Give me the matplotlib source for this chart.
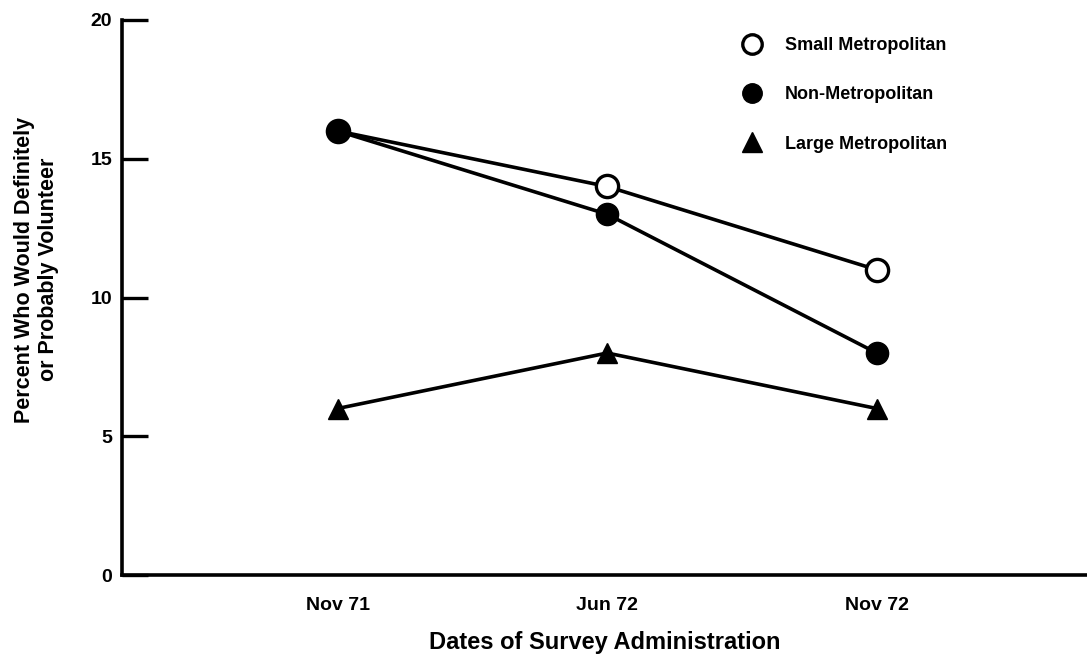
import numpy as np
import matplotlib.pyplot as plt
from matplotlib.lines import Line2D

# Survey dates and percent values
dates = ['Nov 71', 'Jun 72', 'Nov 72']
small_metro = [16, 14, 11]
non_metro = [16, 13, 8]
large_metro = [6, 8, 6]

plt.rcParams['font.family'] = ['Liberation Sans', 'DejaVu Sans']
plt.rcParams['font.weight'] = 'bold'
plt.rcParams['axes.labelweight'] = 'bold'

fig = plt.figure(figsize=(10.87, 6.55), dpi=100)
ax = fig.add_axes([0.1122, 0.1221, 0.8878, 0.8474])

x = np.arange(len(dates))

# Lines
ax.plot(x, small_metro, color='black', lw=2.6, marker='o', ms=16,
        mfc='white', mec='black', mew=2.4, zorder=3)
ax.plot(x, non_metro, color='black', lw=2.6, marker='o', ms=16,
        mfc='black', mec='black', zorder=4)
ax.plot(x, large_metro, color='black', lw=2.6, marker='^', ms=15,
        mfc='black', mec='black', zorder=3)

ax.set_xlim(-0.80, 2.78)
ax.set_ylim(0, 20)
ax.set_xticks(x)
ax.set_xticklabels(dates, fontsize=14)
ax.set_yticks([0, 5, 10, 15, 20])
ax.tick_params(axis='y', direction='in', length=19, width=2.4, labelsize=14, pad=7)
ax.tick_params(axis='x', length=0, pad=16)

for side in ['top', 'right']:
    ax.spines[side].set_visible(False)
ax.spines['left'].set_linewidth(2.6)
ax.spines['bottom'].set_linewidth(2.6)

ax.set_xlabel('Dates of Survey Administration', fontsize=17, labelpad=12)
ax.set_ylabel('Percent Who Would Definitely\nor Probably Volunteer', fontsize=15.5,
              linespacing=1.2)
ax.yaxis.set_label_coords(-0.065, 0.55)

# Legend
handles = [
    Line2D([], [], ls='none', marker='o', ms=14, mfc='white', mec='black', mew=2.4),
    Line2D([], [], ls='none', marker='o', ms=14, mfc='black', mec='black'),
    Line2D([], [], ls='none', marker='^', ms=14, mfc='black', mec='black'),
]
labels = ['Small Metropolitan', 'Non-Metropolitan', 'Large Metropolitan']
ax.legend(handles, labels, loc='upper left', bbox_to_anchor=(0.625, 0.998),
          frameon=False, fontsize=13, handletextpad=1.2, labelspacing=1.78,
          handlelength=1.2)

fig.savefig('out.png', dpi=100, facecolor='white')
